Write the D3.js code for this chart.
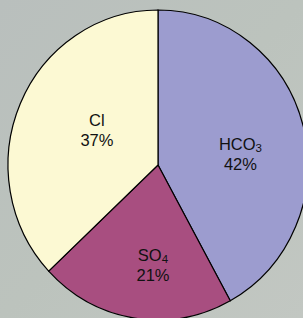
<!DOCTYPE html>
<html lang="en">
<head>
<meta charset="UTF-8">
<title>Anion pie</title>
<script src="https://cdn.jsdelivr.net/npm/d3@7"></script>
<style>
  body { margin: 0; background: #b8bfbb; }
  svg { display: block; }
</style>
</head>
<body>
<div id="container"></div>
<script>
// data
const ions = ["HCO3", "SO4", "Cl"];
const shares = [42, 21, 37];
const ionColors = ["#9c9ccf", "#a84e80", "#fcf9d3"];

const width = 303, height = 318;
const cx = 158, cy = 165;
const rx = 150, ry = 155;   // pie is slightly stretched vertically

const svg = d3.select("#container").append("svg")
    .attr("width", width)
    .attr("height", height);

// photo-ish background
const defs = svg.append("defs");
const bg = defs.append("linearGradient").attr("id", "bg")
    .attr("x1", 0).attr("y1", 0).attr("x2", 1).attr("y2", 1);
bg.append("stop").attr("offset", 0).attr("stop-color", "#b9bfbd");
bg.append("stop").attr("offset", 0.5).attr("stop-color", "#bcc3bd");
bg.append("stop").attr("offset", 1).attr("stop-color", "#c2c7c2");
svg.append("rect").attr("width", width).attr("height", height).attr("fill", "url(#bg)");

const pie = d3.pie().sort(null).value(d => d)(shares);
const arc = d3.arc().innerRadius(0).outerRadius(rx);

const g = svg.append("g")
    .attr("transform", `translate(${cx},${cy}) scale(1,${ry / rx})`);

g.selectAll("path")
    .data(pie)
    .join("path")
    .attr("d", arc)
    .attr("fill", (d, i) => ionColors[i])
    .attr("stroke", "#000")
    .attr("stroke-width", 1.2)
    .attr("vector-effect", "non-scaling-stroke");

// label placement (radius and nudges per slice)
const labelR = [82, 96, 72];
const nudge = [[3, 10], [10, 2], [5, -5]];

const labels = svg.append("g")
    .attr("font-family", "Liberation Sans, Arial, sans-serif")
    .attr("font-size", 16.5)
    .attr("fill", "#111")
    .attr("text-anchor", "middle");

pie.forEach((d, i) => {
  const c = d3.arc().innerRadius(labelR[i]).outerRadius(labelR[i]).centroid(d);
  const x = cx + c[0] + nudge[i][0];
  const y = cy + c[1] * ry / rx + nudge[i][1];
  const t = labels.append("text").attr("x", x).attr("y", y - 4);
  const name = ions[i];
  const m = name.match(/^([A-Za-z]+?)(\d*)$/);
  t.append("tspan").text(m[1]);
  if (m[2]) {
    t.append("tspan").attr("font-size", 11.5).attr("dy", 2).text(m[2]);
  }
  labels.append("text").attr("x", x).attr("y", y + 16).text(shares[i] + "%");
});
</script>
</body>
</html>
